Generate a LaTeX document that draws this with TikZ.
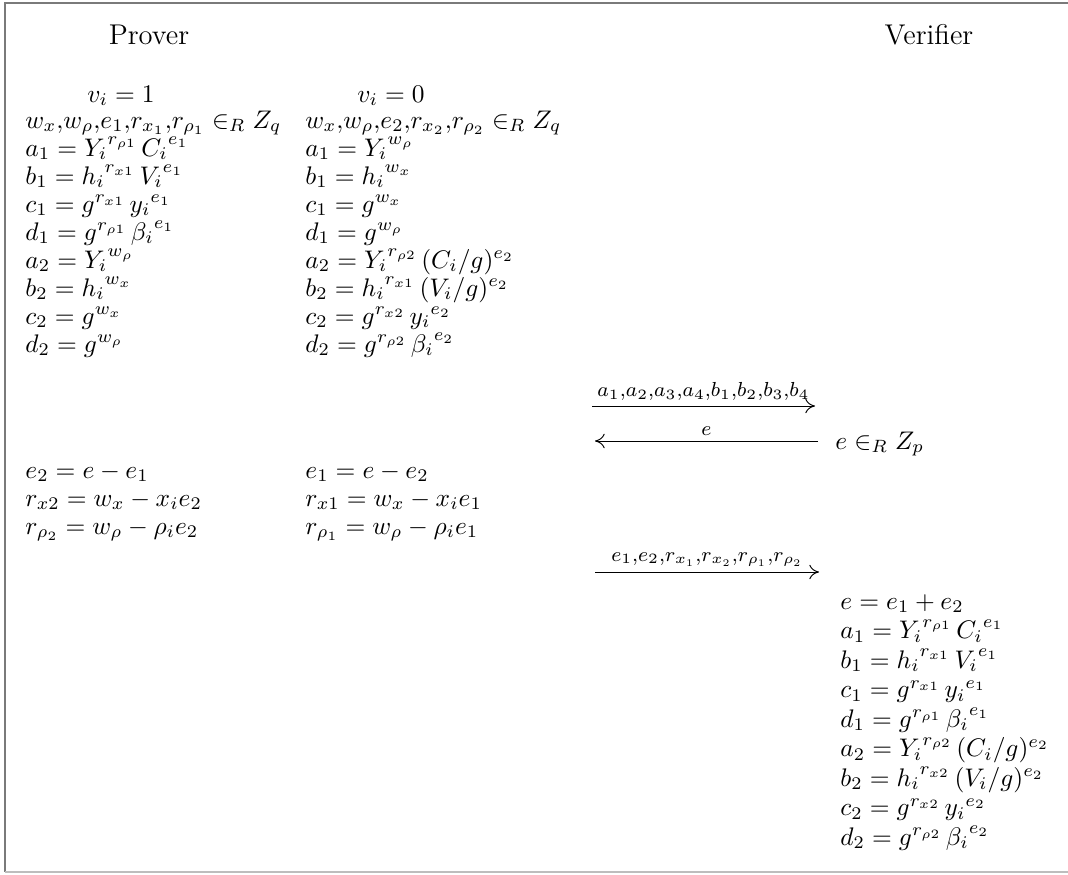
\RequirePackage{fix-cm}
\documentclass[tikz,border=0pt]{standalone}
\usepackage{amsmath,amssymb}
\usepackage{tikz}
\usetikzlibrary{arrows.meta,positioning}
\definecolor{frameGray}{HTML}{7A7A7A}
\definecolor{frameLight}{HTML}{BDBDBD}
\tikzset{
  eqn/.style={anchor=base west, inner sep=0pt, font=\fontsize{10.5}{12.5}\selectfont},
  head/.style={anchor=base, inner sep=0pt, font=\fontsize{10.5}{12.5}\selectfont},
  party/.style={anchor=base, inner sep=0pt, font=\fontsize{11.8}{14}\selectfont},
  msg/.style={-{To[length=4pt,width=6pt]}, line width=0.4pt},
  msglabel/.style={above=1pt, inner sep=1pt, font=\fontsize{8.4}{10}\selectfont},
}

\begin{document}
\begin{tikzpicture}[x=0.413pt, y=-0.413pt]
  \useasboundingbox (0,0) rectangle (1068,874);
  % frame: left, top and bottom rules only
  \draw[frameGray, line width=1pt] (1068,3) -- (5,3) -- (5,872);
  \draw[frameLight, line width=1pt] (5,872) -- (1068,872);

  \node[party] (prover) at (149,44) {Prover};
  \node[party] (verifier) at (929,44) {Verifier};
  \node[head] (vone) at (121,102) {$v_i=1$};
  \node[head] (vzero) at (391,102) {$v_i=0$};

  % commitments when v_i = 1
  \foreach \eq [count=\k] in {
    {w_x{,}w_\rho{,}e_1{,}r_{x_1}{,}r_{\rho_1}\in_R Z_q},
    {a_1={Y_i}^{r_{\rho1}}\,{C_i}^{e_1}},
    {b_1={h_i}^{r_{x1}}\,{V_i}^{e_1}},
    {c_1=g^{r_{x1}}\,{y_i}^{e_1}},
    {d_1=g^{r_{\rho1}}\,{\beta_i}^{e_1}},
    {a_2={Y_i}^{w_\rho}},
    {b_2={h_i}^{w_x}},
    {c_2=g^{w_x}},
    {d_2=g^{w_\rho}}}
    \node[eqn] (pone\k) at (25,{128+28*(\k-1)}) {$\eq$};

  % commitments when v_i = 0
  \foreach \eq [count=\k] in {
    {w_x{,}w_\rho{,}e_2{,}r_{x_2}{,}r_{\rho_2}\in_R Z_q},
    {a_1={Y_i}^{w_\rho}},
    {b_1={h_i}^{w_x}},
    {c_1=g^{w_x}},
    {d_1=g^{w_\rho}},
    {a_2={Y_i}^{r_{\rho2}}\,(C_i/g)^{e_2}},
    {b_2={h_i}^{r_{x1}}\,(V_i/g)^{e_2}},
    {c_2=g^{r_{x2}}\,{y_i}^{e_2}},
    {d_2=g^{r_{\rho2}}\,{\beta_i}^{e_2}}}
    \node[eqn] (pzero\k) at (305,{128+28*(\k-1)}) {$\eq$};

  % responses
  \foreach \eq [count=\k] in {
    {e_2=e-e_1},
    {r_{x2}=w_x-x_ie_2},
    {r_{\rho_2}=w_\rho-\rho_ie_2}}
    \node[eqn] (rone\k) at (25,{478+28*(\k-1)}) {$\eq$};
  \foreach \eq [count=\k] in {
    {e_1=e-e_2},
    {r_{x1}=w_x-x_ie_1},
    {r_{\rho_1}=w_\rho-\rho_ie_1}}
    \node[eqn] (rzero\k) at (305,{478+28*(\k-1)}) {$\eq$};

  % verifier checks
  \foreach \eq [count=\k] in {
    {e=e_1+e_2},
    {a_1={Y_i}^{r_{\rho1}}\,{C_i}^{e_1}},
    {b_1={h_i}^{r_{x1}}\,{V_i}^{e_1}},
    {c_1=g^{r_{x1}}\,{y_i}^{e_1}},
    {d_1=g^{r_{\rho1}}\,{\beta_i}^{e_1}},
    {a_2={Y_i}^{r_{\rho2}}\,(C_i/g)^{e_2}},
    {b_2={h_i}^{r_{x2}}\,(V_i/g)^{e_2}},
    {c_2=g^{r_{x2}}\,{y_i}^{e_2}},
    {d_2=g^{r_{\rho2}}\,{\beta_i}^{e_2}}}
    \node[eqn] (ver\k) at (840,{609+29.5*(\k-1)}) {$\eq$};

  \node[eqn] (chal) at (835,449) {$e\in_R Z_p$};

  % messages
  \coordinate (commitL) at (592,406);
  \coordinate (commitR) at (815,406);
  \coordinate (challL) at (595,441);
  \coordinate (challR) at (818,441);
  \coordinate (respL) at (595,572);
  \coordinate (respR) at (819,572);
  \draw[msg] (commitL) -- node[msglabel]
    {$a_1{,}a_2{,}a_3{,}a_4{,}b_1{,}b_2{,}b_3{,}b_4$} (commitR);
  \draw[msg] (challR) -- node[msglabel] {$e$} (challL);
  \draw[msg] (respL) -- node[msglabel]
    {$e_1{,}e_2{,}r_{x_1}{,}r_{x_2}{,}r_{\rho_1}{,}r_{\rho_2}$} (respR);
\end{tikzpicture}
\end{document}
